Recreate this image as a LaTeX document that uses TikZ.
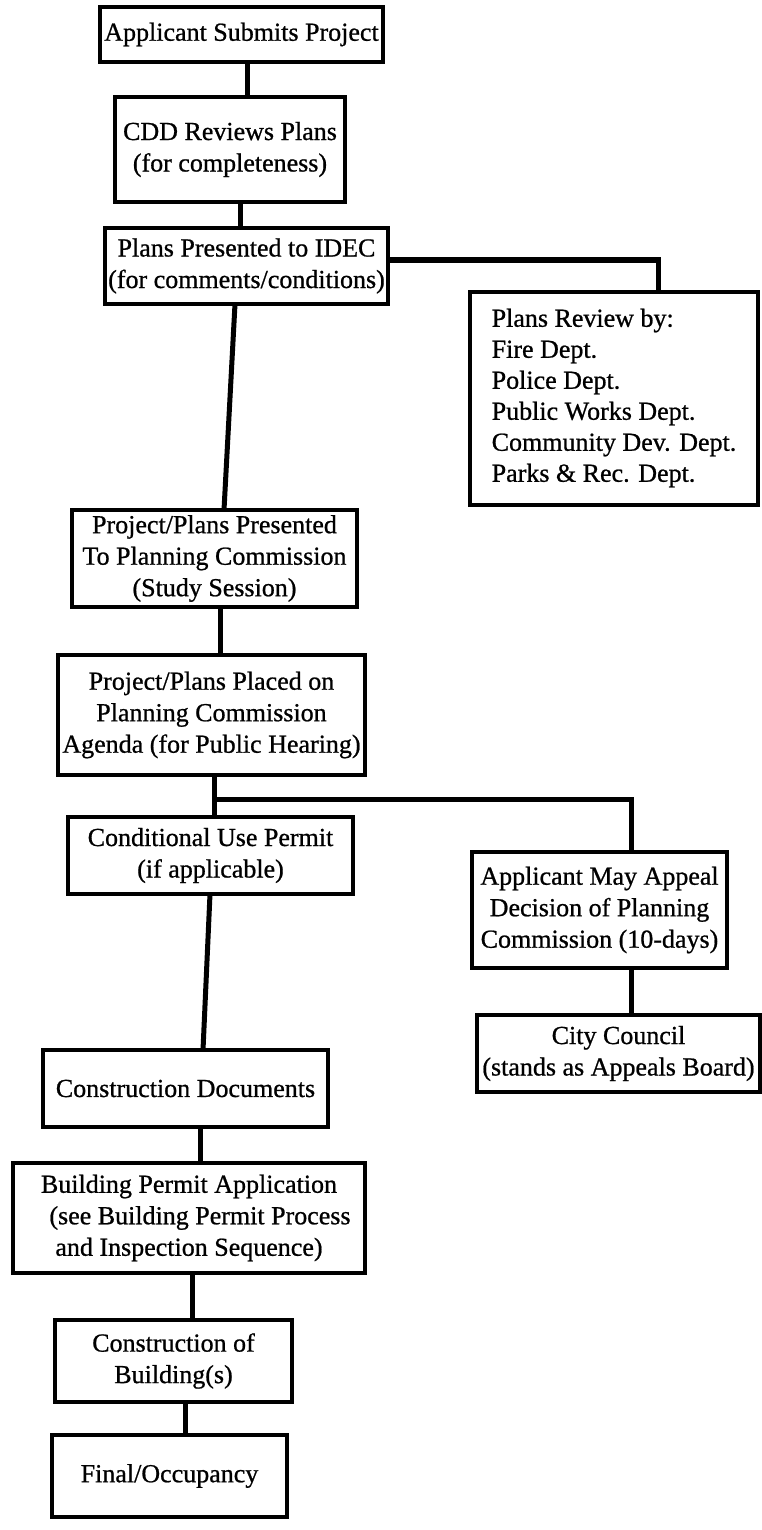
\documentclass[tikz,border=0pt]{standalone}
\usepackage{fontspec}
\setmainfont[FakeBold=0.8]{Liberation Serif}
\begin{document}
\begin{tikzpicture}[x=1pt,y=-1pt,
  box/.style={draw=black, line width=4pt, rectangle, inner sep=0pt, outer sep=0pt,
    align=center, font=\fontsize{26}{31.5}\selectfont},
  link/.style={draw=black, line width=5pt}]
\useasboundingbox (0,0) rectangle (762,1530);

% process boxes (centre, width, height)
\node[box, minimum width=283, minimum height=55] (b1) at (241.5,34.5) {Applicant Submits Project};
\node[box, minimum width=230, minimum height=105] (b2) at (230,149.5) {CDD Reviews Plans\\(for completeness)};
\node[box, minimum width=283, minimum height=76] (b3) at (246.5,266) {Plans Presented to IDEC\\(for comments/conditions)};
\node[box, minimum width=288, minimum height=213, align=left,
      font=\fontsize{26}{31}\selectfont] (rev) at (614,398)
  {Plans Review by:\\Fire Dept.\\Police Dept.\\Public Works Dept.\\Community Dev. Dept.\\Parks \& Rec. Dept.};
\node[box, minimum width=285, minimum height=97] (b4) at (214.5,558.5) {Project/Plans Presented\\To Planning Commission\\(Study Session)};
\node[box, minimum width=307, minimum height=120] (b5) at (211.5,715) {Project/Plans Placed on\\Planning Commission\\Agenda (for Public Hearing)};
\node[box, minimum width=285, minimum height=77] (b6) at (210.5,855.5) {Conditional Use Permit\\(if applicable)};
\node[box, minimum width=255, minimum height=116] (appeal) at (599.5,910) {Applicant May Appeal\\Decision of Planning\\Commission (10-days)};
\node[box, minimum width=283, minimum height=77] (city) at (618.5,1053.5) {City Council\\(stands as Appeals Board)};
\node[box, minimum width=285, minimum height=77] (b7) at (185.5,1088.5) {Construction Documents};
\node[box, minimum width=352, minimum height=110] (b8) at (189,1218) {Building Permit Application\\\hspace*{22pt}(see Building Permit Process\\and Inspection Sequence)};
\node[box, minimum width=237, minimum height=82] (b9) at (173.5,1361) {Construction of\\Building(s)};
\node[box, minimum width=235, minimum height=82] (b10) at (169.5,1476) {Final/Occupancy};

% connector columns and rows
\coordinate (xa) at (247,0);
\coordinate (xb) at (240,0);
\coordinate (xc1) at (235,0);
\coordinate (xc2) at (224,0);
\coordinate (xd) at (658,0);
\coordinate (ya) at (0,260);
\coordinate (xe) at (220,0);
\coordinate (xf) at (214,0);
\coordinate (yb) at (0,799);
\coordinate (xg) at (631,0);
\coordinate (xh1) at (210,0);
\coordinate (xh2) at (203,0);
\coordinate (xi) at (200,0);
\coordinate (xj) at (192,0);
\coordinate (xk) at (185,0);

% connectors
\draw[link] (b1.south -| xa) -- (b2.north -| xa);
\draw[link] (b2.south -| xb) -- (b3.north -| xb);
\draw[link] (b3.south -| xc1) -- (b4.north -| xc2);
\draw[link] (b3.east |- ya) -| (rev.north -| xd);
\draw[link] (b4.south -| xe) -- (b5.north -| xe);
\draw[link] (b5.south -| xf) -- (b6.north -| xf);
\draw[link] (xf |- yb) -| (appeal.north -| xg);
\draw[link] (appeal.south -| xg) -- (city.north -| xg);
\draw[link] (b6.south -| xh1) -- (b7.north -| xh2);
\draw[link] (b7.south -| xi) -- (b8.north -| xi);
\draw[link] (b8.south -| xj) -- (b9.north -| xj);
\draw[link] (b9.south -| xk) -- (b10.north -| xk);
\end{tikzpicture}
\end{document}
